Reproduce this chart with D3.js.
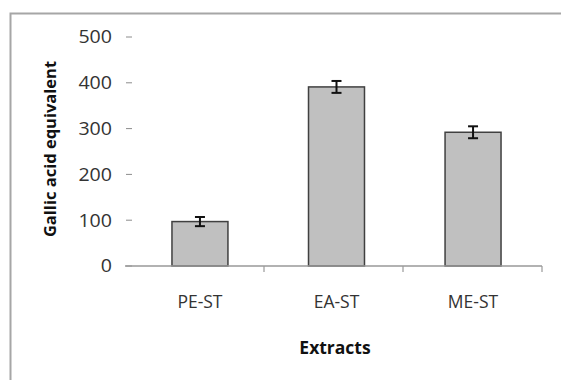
<!DOCTYPE html>
<html><head><meta charset="utf-8">
<script src="https://cdn.jsdelivr.net/npm/d3@7"></script>
<style>html,body{margin:0;padding:0;background:#fff;}svg{display:block;}</style>
</head><body>
<svg id="c" width="561" height="380"></svg>
<script>
const categories = ["PE-ST", "EA-ST", "ME-ST"];
const values = [97, 391, 292];
const errors = [10, 13, 13];
const yTicks = [0, 100, 200, 300, 400, 500];
const xTitle = "Extracts";
const yTitle = "Gallic acid equivalent";

const svg = d3.select("#c");
const font = "'Open Sans', sans-serif";
const m = {left: 125, right: 542, top: 37, bottom: 266};

// outer border
svg.append("path").attr("d", "M10.5,380 L10.5,13.5 L561,13.5")
  .attr("fill", "none").attr("stroke", "#a6a6a6").attr("stroke-width", 2);

const x = d3.scaleBand().domain(categories).range([131, m.right]).paddingInner(0.59).paddingOuter(0.3);
const y = d3.scaleLinear().domain([0, 500]).range([m.bottom, m.top]);

// y ticks and labels
const yg = svg.append("g");
yg.selectAll("line").data(yTicks).join("line")
  .attr("x1", 126).attr("x2", 132)
  .attr("y1", d => y(d)).attr("y2", d => y(d))
  .attr("stroke", "#8c8c8c").attr("stroke-width", 1);
yg.selectAll("text").data(yTicks).join("text")
  .attr("x", 112).attr("y", d => y(d)).attr("dy", "0.36em")
  .attr("text-anchor", "end").attr("font-family", font).attr("font-size", 17.5)
  .attr("fill", "#333").attr("textLength", d => String(d).length * 11.2)
  .attr("lengthAdjust", "spacingAndGlyphs").text(d => d);

// bars
svg.append("g").selectAll("rect").data(categories).join("rect")
  .attr("x", d => x(d)).attr("width", x.bandwidth())
  .attr("y", (d, i) => y(values[i])).attr("height", (d, i) => y(0) - y(values[i]))
  .attr("fill", "#c0c0c0").attr("stroke", "#404040").attr("stroke-width", 1.5);

// x axis
svg.append("line").attr("x1", m.left).attr("x2", m.right).attr("y1", m.bottom).attr("y2", m.bottom)
  .attr("stroke", "#999").attr("stroke-width", 1.5);
const bounds = categories.map((c, i) => m.left + (m.right - m.left) * (i + 1) / categories.length);
svg.append("g").selectAll("line").data(bounds).join("line")
  .attr("x1", d => d).attr("x2", d => d).attr("y1", m.bottom).attr("y2", m.bottom + 6)
  .attr("stroke", "#999").attr("stroke-width", 1.2);

// category labels
svg.append("g").selectAll("text").data(categories).join("text")
  .attr("x", d => x(d) + x.bandwidth() / 2).attr("y", 308)
  .attr("text-anchor", "middle").attr("font-family", font).attr("font-size", 17.5)
  .attr("fill", "#333").text(d => d);

// error bars
const eg = svg.append("g").attr("stroke", "#111").attr("stroke-width", 2);
categories.forEach((c, i) => {
  const cx = x(c) + x.bandwidth() / 2;
  const y1 = y(values[i] + errors[i]), y2 = y(values[i] - errors[i]);
  eg.append("line").attr("x1", cx).attr("x2", cx).attr("y1", y1).attr("y2", y2);
  eg.append("line").attr("x1", cx - 5).attr("x2", cx + 5).attr("y1", y1).attr("y2", y1);
  eg.append("line").attr("x1", cx - 5).attr("x2", cx + 5).attr("y1", y2).attr("y2", y2);
});

// titles
svg.append("text").attr("x", 335).attr("y", 354).attr("text-anchor", "middle")
  .attr("font-family", font).attr("font-size", 17.5).attr("font-weight", "bold")
  .attr("fill", "#111").text(xTitle);
svg.append("text").attr("transform", "translate(56,149) rotate(-90)")
  .attr("text-anchor", "middle").attr("font-family", font).attr("font-size", 16.5)
  .attr("font-weight", "bold").attr("fill", "#111").text(yTitle);
</script>
</body></html>
